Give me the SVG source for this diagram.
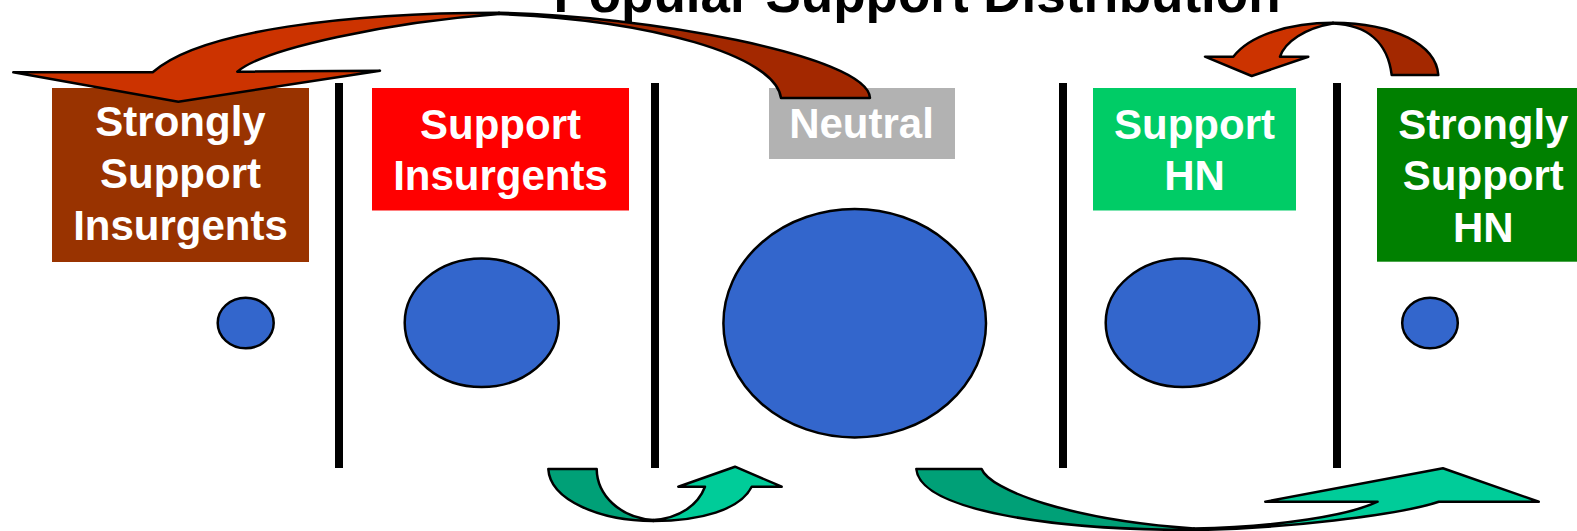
<svg xmlns="http://www.w3.org/2000/svg" width="1577" height="531" viewBox="0 0 1577 531">
<style>
.lbl{font-family:"Liberation Sans",Arial,sans-serif;font-weight:bold;fill:#ffffff;text-anchor:middle;font-size:42px}
.title{font-family:"Liberation Sans",Arial,sans-serif;font-weight:bold;fill:#000000;text-anchor:middle;font-size:53px}
.pop{fill:#3366cc;stroke:#000000;stroke-width:2.5}
.div{fill:#000000}
.rf{fill:#cc3300;stroke:#000000;stroke-width:2.5;stroke-linejoin:round}
.rb{fill:#a32800;stroke:#000000;stroke-width:2.5;stroke-linejoin:round}
.gf{fill:#00cc99;stroke:#000000;stroke-width:2.5;stroke-linejoin:round}
.gb{fill:#00a077;stroke:#000000;stroke-width:2.5;stroke-linejoin:round}
</style>
<rect width="1577" height="531" fill="#ffffff"/>
<text class="title" x="917" y="12">Popular Support Distribution</text>
<g id="dividers">
<rect class="div" x="335" y="83" width="8" height="385"/>
<rect class="div" x="651" y="83" width="8" height="385"/>
<rect class="div" x="1059" y="83" width="8" height="385"/>
<rect class="div" x="1333" y="83" width="8" height="385"/>
</g>
<g id="node-strongly-insurgents">
<rect x="52" y="88" width="257" height="174" fill="#993300"/>
<text class="lbl" x="180.5" y="136">Strongly</text>
<text class="lbl" x="180.5" y="188">Support</text>
<text class="lbl" x="180.5" y="240">Insurgents</text>
<ellipse class="pop" cx="245.7" cy="323" rx="28" ry="25.3"/>
</g>
<g id="node-support-insurgents">
<rect x="372" y="88" width="257" height="122.5" fill="#ff0000"/>
<text class="lbl" x="500.5" y="139.3">Support</text>
<text class="lbl" x="500.5" y="190">Insurgents</text>
<ellipse class="pop" cx="481.7" cy="322.8" rx="77" ry="64.2"/>
</g>
<g id="node-neutral">
<rect x="769" y="88" width="186" height="71" fill="#b2b2b2"/>
<text class="lbl" x="861.5" y="138.3">Neutral</text>
<ellipse class="pop" cx="854.7" cy="323.2" rx="131.3" ry="114.2"/>
</g>
<g id="node-support-hn">
<rect x="1093" y="88" width="203" height="122.5" fill="#00cc66"/>
<text class="lbl" x="1194.5" y="139.3">Support</text>
<text class="lbl" x="1194.5" y="190">HN</text>
<ellipse class="pop" cx="1182.5" cy="322.8" rx="76.8" ry="64.2"/>
</g>
<g id="node-strongly-hn">
<rect x="1377" y="88" width="200" height="173.7" fill="#008000"/>
<text class="lbl" x="1483.3" y="139.3">Strongly</text>
<text class="lbl" x="1483.3" y="190">Support</text>
<text class="lbl" x="1483.3" y="241.7">HN</text>
<ellipse class="pop" cx="1430" cy="323" rx="27.8" ry="25.3"/>
</g>
<g id="connectors">
<path class="rb" d="M499,12.7 C640,15 868,55 870,98 L781,98 C775,55 650,20 499,14 Z"/>
<path class="rf" d="M13.3,72.3 L152.7,72.3 C200,30 350,12.7 499,12.7 L499,14 C390,22 265,48 237.3,71.7 L380,70.7 L178.3,101.7 Z"/>
<path class="rb" d="M1333,22.7 C1395,23 1436,45 1438.3,75 L1391.7,75 C1388,45 1370,25 1333,23.5 Z"/>
<path class="rf" d="M1205,56.7 L1233.3,56.7 C1250,35 1290,22.7 1333,22.7 L1333,23.5 C1305,28 1285,42 1280,56.7 L1308.3,56.7 L1251.7,76 Z"/>
<path class="gb" d="M548.3,469 L596.7,469 C597,495 620,518 653.3,520 L653.3,521 C600,521 550,500 548.3,469 Z"/>
<path class="gf" d="M653.3,521 C700,521 740,510 751.7,486.7 L781.7,486.7 L735,466.7 L678.3,486.7 L705,486.7 C698,505 680,518 653.3,520 Z"/>
<path class="gb" d="M916.3,469 L981.6,469 C990,490 1070,520 1194,528.5 L1194,530 C1050,530 920,510 916.3,469 Z"/>
<path class="gf" d="M1194,530 C1280,529 1400,515 1438.8,501.7 L1538.8,501.7 L1442.9,468.3 L1265.3,501.7 L1377.6,501.7 C1350,515 1280,527 1194,528.5 Z"/>
</g>
</svg>
